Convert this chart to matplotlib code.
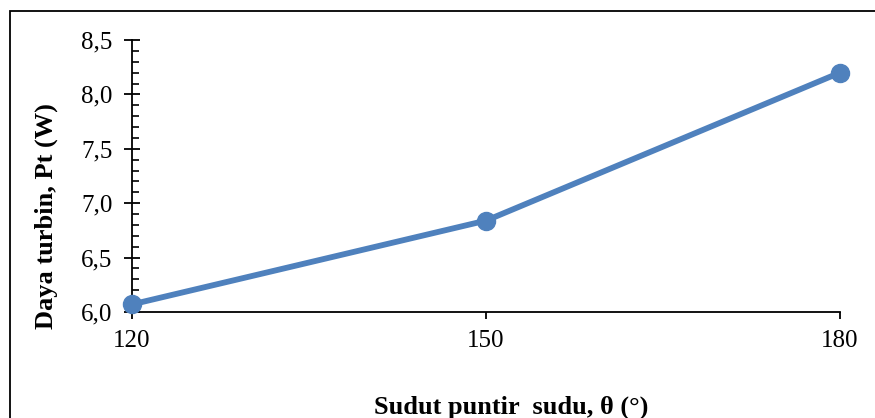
import matplotlib
matplotlib.use("Agg")
import matplotlib.pyplot as plt
from matplotlib.patches import Rectangle
from matplotlib.ticker import FixedLocator, MultipleLocator, FuncFormatter

sudut = [120, 150, 180]
daya = [6.07, 6.84, 8.20]
y_ticks = [6.0, 6.5, 7.0, 7.5, 8.0, 8.5]

W, H = 875, 418
plt.rcParams["font.family"] = ["Liberation Serif", "DejaVu Serif"]

fig = plt.figure(figsize=(W / 100, H / 100), dpi=100)
ax = fig.add_axes([132 / W, 1 - 312 / H, (840 - 132) / W, (312 - 40) / H])

ax.plot(sudut, daya, "-o", color="#4F81BD", lw=4.2, ms=13, mec="#4F81BD",
        solid_capstyle="round", clip_on=False, zorder=5)

ax.set_xlim(120, 180)
ax.set_ylim(6.0, 8.5)
ax.xaxis.set_major_locator(FixedLocator(sudut))
ax.yaxis.set_major_locator(FixedLocator(y_ticks))
ax.yaxis.set_minor_locator(MultipleLocator(0.1))
ax.yaxis.set_major_formatter(FuncFormatter(lambda v, p: f"{v:.1f}".replace(".", ",")))

for sp in ["top", "right"]:
    ax.spines[sp].set_visible(False)
for sp in ["left", "bottom"]:
    ax.spines[sp].set_linewidth(1.3)
ax.tick_params(axis="y", which="major", direction="inout", length=12, width=1.3,
               labelsize=18, pad=8)
ax.tick_params(axis="y", which="minor", direction="in", length=5, width=1.2)
ax.tick_params(axis="x", which="major", direction="out", length=5, width=1.3,
               labelsize=18, pad=8)

ax.set_ylabel("Daya turbin, Pt (W)", fontsize=19, fontweight="bold")
ax.yaxis.set_label_coords((58 - 132) / 708, (312 - 216) / 272)
fig.text(511 / W, 11 / H, "Sudut puntir  sudu, θ (°)", fontsize=19,
         fontweight="bold", ha="center", va="center")

fig.patches.append(Rectangle((10 / W, -0.1), 1.2, (H - 11) / H + 0.1,
                             transform=fig.transFigure, fill=False,
                             lw=1.3, ec="black"))

fig.savefig("out.png", dpi=100, facecolor="white")
